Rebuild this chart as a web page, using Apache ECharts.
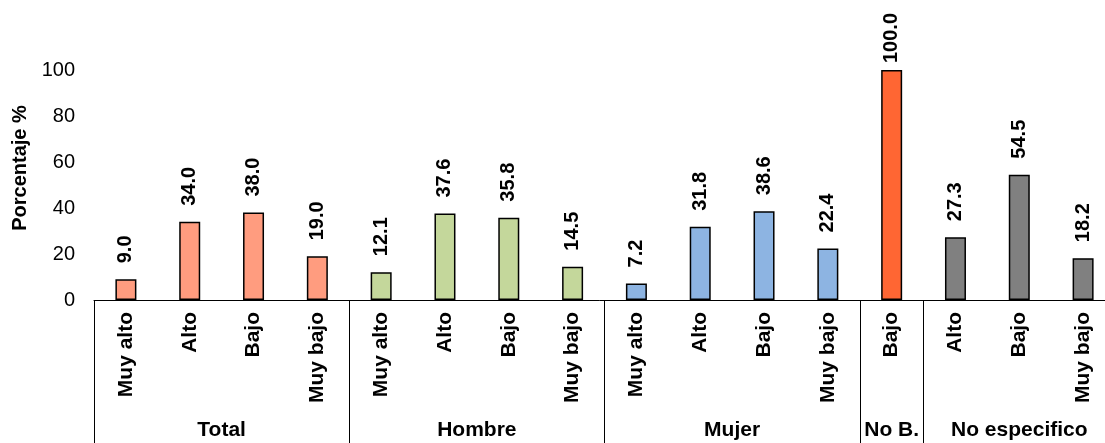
<!DOCTYPE html>
<html>
<head>
<meta charset="utf-8">
<script src="https://cdn.jsdelivr.net/npm/echarts@6/dist/echarts.min.js"></script>
<style>
html,body{margin:0;padding:0;background:#fff;}
#c{width:1105px;height:443px;}
</style>
</head>
<body>
<div id="c"></div>
<script>
// ---- data ----
var groups = ['Total', 'Hombre', 'Mujer', 'No B.', 'No especifico'];
var groupCategories = [
  ['Muy alto', 'Alto', 'Bajo', 'Muy bajo'],
  ['Muy alto', 'Alto', 'Bajo', 'Muy bajo'],
  ['Muy alto', 'Alto', 'Bajo', 'Muy bajo'],
  ['Bajo'],
  ['Alto', 'Bajo', 'Muy bajo']
];
var totalValues = [9.0, 34.0, 38.0, 19.0];
var hombreValues = [12.1, 37.6, 35.8, 14.5];
var mujerValues = [7.2, 31.8, 38.6, 22.4];
var noBValues = [100.0];
var noEspecificoValues = [27.3, 54.5, 18.2];
var groupColors = ['#FF9C7F', '#C4D79B', '#8DB4E2', '#FF6633', '#808080'];
var yTicks = [0, 20, 40, 60, 80, 100];

// ---- build ----
var yMax = yTicks[yTicks.length - 1];
var groupValues = [totalValues, hombreValues, mujerValues, noBValues, noEspecificoValues];
var categories = [];
var barData = [];
groupCategories.forEach(function (cats, g) {
  cats.forEach(function (c, i) {
    var v = groupValues[g][i];
    var item = { value: v, itemStyle: { color: groupColors[g] } };
    // labels that would run off the top are pulled closer to the bar
    if (v >= yMax) item.label = { distance: 7 };
    categories.push(c);
    barData.push(item);
  });
});
// half-step axis: 2 slots per category, boundaries at even indices
var halfSlots = [];
for (var k = 0; k <= categories.length * 2; k++) halfSlots.push('');
var boundaries = {};
var pos = 0;
groupCategories.forEach(function (cats, g) {
  boundaries[pos * 2] = true;
  halfSlots[pos * 2 + cats.length] = groups[g];
  pos += cats.length;
});
boundaries[pos * 2] = true;

var font = 'Liberation Sans, Arial, sans-serif';
var chart = echarts.init(document.getElementById('c'), null, { renderer: 'canvas' });
chart.setOption({
  animation: false,
  backgroundColor: '#ffffff',
  grid: { left: 94, width: 1021, top: 70, height: 230, containLabel: false, outerBoundsMode: 'none' },
  xAxis: [
    {
      type: 'category',
      data: categories,
      position: 'bottom',
      axisLine: { show: true, lineStyle: { color: '#000', width: 1 } },
      axisTick: { show: false },
      axisLabel: {
        interval: 0, rotate: 90, margin: 12,
        fontFamily: font, fontSize: 21, fontWeight: 'bold', color: '#000'
      },
      splitLine: { show: false }
    },
    {
      type: 'category',
      data: halfSlots,
      position: 'bottom',
      boundaryGap: false,
      axisLine: { show: false },
      axisTick: {
        show: true, length: 150, inside: false,
        interval: function (idx) { return !!boundaries[idx]; },
        lineStyle: { color: '#000', width: 1 }
      },
      axisLabel: {
        interval: 0, margin: 120,
        fontFamily: font, fontSize: 21, fontWeight: 'bold', color: '#000'
      },
      splitLine: { show: false }
    }
  ],
  yAxis: {
    type: 'value', min: yTicks[0], max: yMax, interval: 20,
    axisLine: { show: false }, axisTick: { show: false }, splitLine: { show: false },
    axisLabel: { margin: 19, fontFamily: font, fontSize: 20, color: '#000' }
  },
  graphic: [{
    type: 'text', x: 20, y: 168, rotation: Math.PI / 2,
    style: {
      text: 'Porcentaje %', font: 'bold 20px ' + font, fill: '#000',
      textAlign: 'center', textVerticalAlign: 'middle'
    }
  }],
  series: [{
    type: 'bar',
    xAxisIndex: 0,
    data: barData,
    barWidth: 21,
    itemStyle: { borderColor: '#000', borderWidth: 1.5 },
    label: {
      show: true, position: 'top', distance: 16, rotate: 90,
      align: 'left', verticalAlign: 'middle',
      fontFamily: font, fontSize: 20, fontWeight: 'bold', color: '#000',
      formatter: function (p) { return p.value.toFixed(1); }
    }
  }]
});
</script>
</body>
</html>
